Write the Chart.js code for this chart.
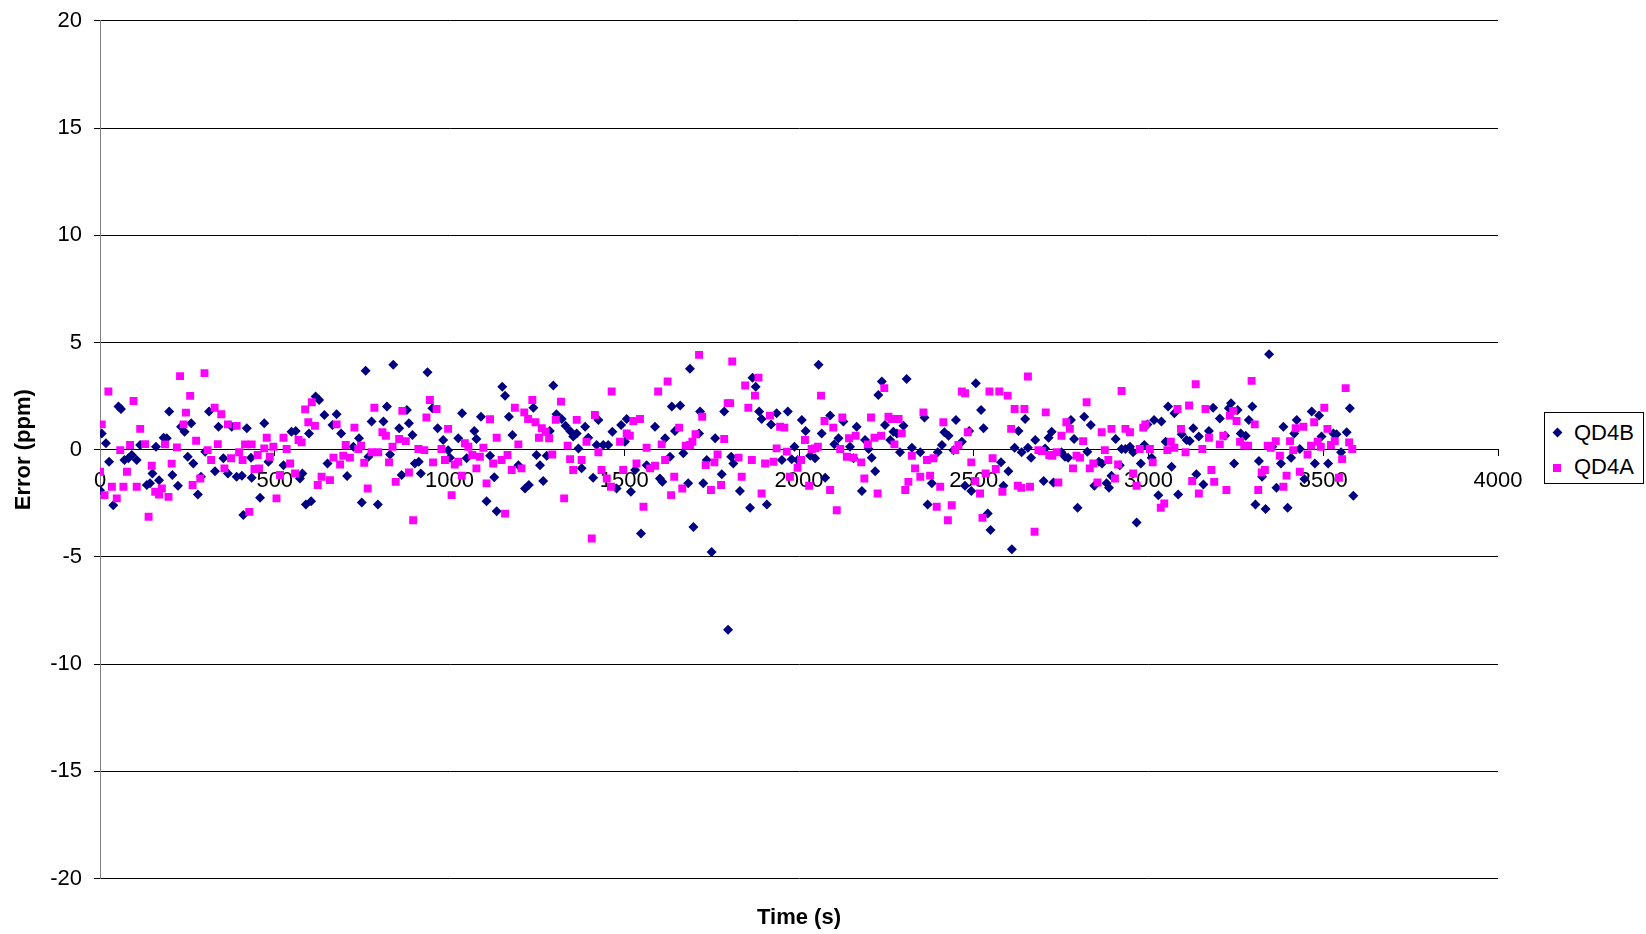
<!DOCTYPE html>
<html>
<head>
<meta charset="utf-8">
<title>QD4B / QD4A error</title>
<script src="https://cdn.jsdelivr.net/npm/chart.js"></script>
<style>
  body { margin: 0; background: #fff; }
  #wrap { position: relative; width: 1646px; height: 934px; }
  #legend { position: absolute; left: 1544px; top: 412px; width: 98px; height: 70px; border: 1px solid #000; background: #fff;
            font-family: Arial, "Liberation Sans", sans-serif; font-size: 22px; color: #000; }
  #legend .txt { position: absolute; left: 29px; line-height: 26px; }
  #legend .dia { position: absolute; left: 9px; top: 16px; width: 7px; height: 7px; background: #000080; transform: rotate(45deg); }
  #legend .sq { position: absolute; left: 8px; top: 51px; width: 8px; height: 8px; background: #ff00ff; }
</style>
</head>
<body>
<div id="wrap">
  <canvas id="chart" width="1646" height="934"></canvas>
  <div id="legend">
    <div class="dia"></div><div class="txt" style="top:7px">QD4B</div>
    <div class="sq"></div><div class="txt" style="top:41px">QD4A</div>
  </div>
</div>
<script>
var xTicks = [0, 500, 1000, 1500, 2000, 2500, 3000, 3500, 4000];
var yTicks = [-20, -15, -10, -5, 0, 5, 10, 15, 20];

var qd4bTime = [0, 5, 17, 26, 38, 53, 60, 70, 81, 91, 105, 115, 134, 143, 150, 160, 169, 182, 191, 198, 207, 223, 232, 242, 251, 261, 267, 280, 289, 301, 312, 329, 339, 353, 366, 377, 391, 406, 410, 420, 432, 434,
  458, 470, 482, 525, 548, 560, 572, 579, 589, 598, 604, 617, 627, 642, 651, 665, 677, 690, 707, 725, 741, 749, 760, 768, 777, 795, 811, 821, 830, 839, 856, 863, 878, 884, 894, 901,
  912, 918, 937, 951, 966, 982, 996, 1001, 1025, 1036, 1049, 1071, 1077, 1090, 1106, 1116, 1128, 1135, 1151, 1159, 1170, 1180, 1197, 1216, 1227, 1240, 1249, 1259, 1268, 1278, 1287, 1297, 1306, 1321, 1332, 1345, 1354,
  1364, 1369, 1378, 1388, 1397, 1411, 1421, 1426, 1440, 1454, 1466, 1478, 1491, 1502, 1507, 1519, 1531, 1548, 1564, 1588, 1602, 1609, 1617, 1631, 1636, 1645, 1660, 1669, 1683, 1688, 1698, 1714, 1717, 1726, 1736, 1750, 1760, 1779, 1786, 1797, 1806, 1812,
  1831, 1860, 1867, 1876, 1886, 1893, 1908, 1920, 1936, 1951, 1968, 1979, 1987, 1996, 2008, 2019, 2032, 2046, 2056, 2065, 2075, 2089, 2101, 2113, 2127, 2146, 2156, 2165, 2180, 2189, 2199, 2208, 2218, 2227, 2237, 2246, 2261, 2270,
  2280, 2289, 2299, 2308, 2323, 2347, 2359, 2368, 2380, 2397, 2409, 2416, 2428, 2442, 2449, 2466, 2475, 2487, 2493, 2506, 2521, 2528, 2540, 2548, 2578, 2585, 2599, 2609, 2617, 2628, 2637, 2647, 2655, 2664, 2676, 2700, 2704, 2714, 2723, 2728,
  2751, 2761, 2770, 2778, 2787, 2797, 2816, 2825, 2835, 2845, 2858, 2867, 2880, 2887, 2894, 2906, 2918, 2923, 2934, 2947, 2956, 2966, 2978, 2988, 2997, 3009, 3016, 3028, 3037, 3049, 3056, 3066, 3074, 3085, 3095, 3109, 3118, 3128, 3137, 3144, 3157, 3173, 3185,
  3204, 3219, 3230, 3236, 3245, 3255, 3264, 3278, 3287, 3297, 3306, 3316, 3325, 3335, 3345, 3354, 3366, 3379, 3386, 3398, 3408, 3417, 3424, 3433, 3446, 3467, 3476, 3488, 3495, 3514, 3529, 3538, 3551, 3567, 3576, 3586];
var qd4bError = [-1.89, 0.76, 0.30, -0.56, -2.59, 2.01, 1.90, -0.48, -0.40, -0.25, -0.48, 0.22, -1.65, -1.57, -1.11, 0.14, -1.42, 0.56, 0.53, 1.78, -1.18, -1.68, 1.07, 0.84, -0.33, 1.23, -0.64, -2.09, -1.26, -0.09, 1.78, -1.00, 1.07, -0.40, -1.11, 1.07, -1.26, -1.21, -3.05, 1.00, -0.37, -1.31,
  -2.24, 1.23, -0.56, -0.72, 0.84, 0.87, -1.34, -1.11, -2.55, 0.76, -2.40, 2.48, 2.32, 1.62, -0.64, 1.15, 1.65, 0.76, -1.23, 0.14, 0.53, -2.46, 3.68, -0.33, 1.31, -2.55, 1.31, 2.01, -0.22, 3.96, 1.00, -1.18, 1.85, 1.23, 0.69, -0.64,
  -0.56, -1.11, 3.61, 1.93, 1.00, 0.45, -0.02, -0.37, 0.53, 1.70, -0.40, 0.87, 0.50, 1.54, -2.40, -0.28, -1.29, -2.87, 2.94, 2.52, 1.54, 0.69, -0.72, -1.81, -1.65, 1.96, -0.25, -0.72, -1.46, -0.28, 0.87, 2.99, 1.65, 1.43, 1.12, 0.87, 0.61,
  0.76, 0.06, -0.87, 1.07, 0.56, -1.31, 0.22, 1.39, 0.22, 0.22, 0.84, -1.81, 1.15, 0.37, 1.43, -1.96, -0.95, -3.91, -0.72, 1.07, -1.34, -1.50, 0.53, -0.33, 2.01, 0.87, 2.06, -0.17, -1.57, 3.77, -3.60, 0.76, 1.78, -1.57, -0.48, -4.77, 0.53, -1.15, 1.78, -8.40, -0.33, -0.64,
  -1.93, -2.71, 3.36, 2.94, 1.78, 1.43, -2.55, 1.18, 1.70, -0.48, 1.78, -0.44, 0.14, -0.48, 1.39, 0.87, -0.28, -0.40, 3.96, 0.76, -1.31, 1.59, 0.25, 0.53, 1.31, 0.14, -0.40, 1.07, -1.93, 0.45, 0.03, -0.37, -1.00, 2.55, 3.18, 1.15, 0.45, 0.84,
  0.76, -0.12, 1.12, 3.30, 0.09, -0.12, 1.50, -2.55, -1.57, -0.12, 0.22, 0.81, 0.65, -0.02, 1.39, 0.37, -1.68, 0.87, -1.93, 3.10, 1.85, 1.00, -2.98, -3.75, -0.59, -1.68, -1.00, -4.64, 0.09, 0.87, -0.12, 1.43, 0.09, -0.37, 0.45, -1.46, 0.06, 0.56, 0.84, -1.53,
  -0.12, -0.33, -0.37, 1.39, 0.50, -2.71, 1.54, -0.09, 1.15, -1.68, -0.56, -0.64, -1.57, -1.78, -1.21, 0.50, -0.72, 0.03, 0.03, 0.14, -0.12, -3.40, -0.64, 0.22, 1.18, -0.37, 1.39, -2.12, 1.31, 0.37, 2.01, -0.79, 1.70, -2.09, 0.72, 0.45, 0.40, 1.00, -1.15, 0.61, -1.62, 0.87, 1.96,
  1.46, 0.65, 1.93, 2.17, -0.64, 1.85, 0.76, 0.65, 1.39, 2.01, -2.55, -0.53, -1.26, -2.77, 4.45, 0.14, -1.78, -0.64, 1.07, -2.71, -0.37, 0.76, 1.39, 0.03, -1.37, 1.78, -0.64, 1.59, 0.61, -0.64, 0.76, 0.72, -0.12, 0.81, 1.93, -2.15];

var qd4aTime = [0, 5, 13, 24, 34, 48, 58, 67, 77, 86, 96, 105, 115, 129, 139, 148, 158, 169, 177, 186, 196, 205, 220, 229, 239, 246, 258, 265, 275, 287, 299, 308, 318, 328, 337, 347, 356, 366, 375, 391, 398, 408, 415, 427, 434, 442,
  451, 455, 470, 477, 486, 496, 505, 515, 525, 534, 544, 558, 568, 577, 587, 596, 606, 615, 623, 634, 658, 668, 677, 687, 696, 703, 715, 728, 739, 747, 756, 766, 777, 785, 796, 808, 818, 827, 837, 846, 856, 865, 875, 884, 896,
  911, 928, 934, 944, 953, 963, 977, 987, 996, 1006, 1015, 1025, 1035, 1044, 1054, 1065, 1077, 1087, 1097, 1106, 1116, 1125, 1135, 1149, 1159, 1166, 1178, 1187, 1197, 1206, 1214, 1225, 1237, 1246, 1256, 1264, 1275, 1285, 1294, 1304, 1319, 1328, 1338, 1345, 1354,
  1364, 1378, 1392, 1407, 1416, 1426, 1435, 1450, 1462, 1464, 1488, 1497, 1507, 1516, 1526, 1535, 1545, 1555, 1564, 1574, 1588, 1597, 1607, 1617, 1624, 1634, 1643, 1657, 1666, 1676, 1688, 1695, 1704, 1714, 1723, 1733, 1748, 1758, 1767, 1777, 1786, 1796, 1803, 1809,
  1827, 1836, 1846, 1855, 1865, 1874, 1884, 1893, 1903, 1917, 1927, 1936, 1946, 1958, 1965, 1974, 1996, 2006, 2017, 2029, 2036, 2046, 2054, 2063, 2073, 2089, 2098, 2108, 2118, 2124, 2137, 2143, 2156, 2162, 2178, 2187, 2197, 2206, 2216, 2225, 2235, 2244, 2256, 2265, 2273,
  2285, 2294, 2304, 2313, 2323, 2332, 2347, 2356, 2366, 2375, 2385, 2394, 2404, 2413, 2426, 2437, 2447, 2456, 2466, 2475, 2483, 2493, 2504, 2518, 2525, 2534, 2545, 2554, 2563, 2573, 2582, 2597, 2607, 2617, 2626, 2636, 2645, 2655, 2661, 2674, 2685, 2695, 2706, 2716, 2725,
  2737, 2742, 2751, 2765, 2775, 2784, 2794, 2804, 2813, 2823, 2832, 2842, 2854, 2866, 2875, 2885, 2894, 2904, 2913, 2923, 2934, 2947, 2956, 2966, 2975, 2985, 2991, 3004, 3012, 3035, 3045, 3054, 3064, 3074, 3083, 3093, 3106, 3116, 3125, 3135, 3144, 3154, 3163, 3173, 3180, 3188,
  3204, 3214, 3223, 3233, 3242, 3252, 3262, 3274, 3285, 3295, 3304, 3314, 3324, 3333, 3341, 3350, 3364, 3376, 3386, 3395, 3405, 3414, 3421, 3433, 3443, 3455, 3465, 3474, 3484, 3493, 3503, 3512, 3522, 3533, 3545, 3554, 3564, 3574, 3583];
var qd4aError = [-1.03, 1.18, -2.12, 2.71, -1.73, -2.27, -0.02, -1.73, -1.03, 0.22, 2.27, -1.73, 0.97, 0.26, -3.13, -0.75, -1.96, -2.09, -1.81, 0.25, -2.20, -0.65, 0.11, 3.43, 1.18, 1.73, 2.51, -1.65, 0.42, -1.34, 3.57, -0.02, -0.48, 1.96, 0.26, 1.65, -0.87, 1.18, -0.40, 1.11, -0.12, -0.48, 0.25, -2.90, 0.25, -0.90,
  -0.25, -0.87, 0.06, 0.56, -0.33, 0.14, -2.27, -1.18, 0.56, 0.03, -0.64, -1.11, 0.45, 0.34, 1.88, 1.28, 2.21, 1.11, -1.65, -1.26, -1.42, -0.37, 1.18, -0.69, -0.28, 0.22, -0.37, 1.03, 0.03, 0.19, -0.61, -1.81, -0.12, 1.96, -0.12, 0.81, 0.65, -0.59, 0.14, -1.50, 0.50, 1.81, 0.40, -1.06, -3.29,
  0.03, -0.02, 1.50, 2.32, -0.59, 1.90, 0.03, -0.48, 0.97, -2.12, -0.69, -0.56, -1.21, 0.30, 0.14, -0.25, -0.87, -0.33, 0.09, -1.57, 1.42, -0.64, 0.56, -0.48, -2.98, -0.25, -0.95, 1.96, 0.25, -0.87, 1.74, 1.43, 2.32, 1.28, 0.56, 1.00, 0.84, 0.53, -0.22, 1.39, 2.24, -2.27, 0.19, -0.44, -0.95,
  1.39, -0.48, 0.37, -4.14, 1.62, -0.12, -0.95, -1.34, -1.73, 2.71, 0.37, -0.95, 0.76, 0.65, 1.34, -0.64, 1.43, -2.66, 0.09, -0.87, -0.75, 2.71, 0.25, -0.48, 3.18, -2.12, -1.26, 1.03, -1.81, 0.19, 0.22, 0.37, 0.72, 4.42, 1.54, -0.72, -1.88, -0.59, -0.22, -1.65, 0.50, 2.17, 2.17, 4.11,
  -0.37, -1.26, 2.99, 1.96, -0.48, 2.52, 3.36, -2.04, -0.64, 1.59, -0.56, 0.06, 1.07, 1.03, -0.09, -1.26, -0.84, -0.48, 0.45, -1.68, 0.03, 0.06, 0.14, 2.52, 1.34, -1.88, 1.03, -2.82, 0.03, 1.50, -0.33, 0.53, -0.37, 0.65, -0.59, -1.34, 0.25, 1.50, 0.56, -2.04, 0.65, 2.87, 1.54, 1.43, 0.25,
  1.43, 0.76, -1.88, -1.50, -0.28, -0.87, -1.26, 1.74, -0.48, -1.21, -0.40, -2.66, -1.73, 1.28, -3.29, -2.59, -0.02, 0.22, 2.71, 2.63, 0.81, -0.59, -1.46, -2.04, -3.18, -1.11, 2.71, -0.40, -0.90, 2.71, -1.96, 2.52, 0.97, 1.90, -1.68, -1.78, 1.90, 3.41, -1.73, -3.83, -0.02, -0.06, 1.74, -0.25, -0.28,
  -0.12, -1.53, 0.65, 1.28, 0.97, -0.87, -0.28, -0.37, 0.40, 2.21, -0.87, -0.64, -1.53, 0.81, -0.02, -0.48, 0.97, -1.34, -0.69, 2.74, 0.97, 0.81, -1.11, -1.68, 0.03, 1.03, 1.18, 0.03, -0.59, -2.71, -2.51, -0.02, 0.37, 0.09, 1.90, 0.97, -0.12, 2.06, -1.46, 3.05, -2.04, 0.03, 1.90, 0.56, -0.95, -1.50,
  0.25, 0.65, -1.88, 1.59, 1.81, 1.34, 0.37, 0.19, 0.19, 3.21, 1.18, -1.88, -1.06, -0.95, 0.19, 0.09, 0.40, -0.28, -1.73, -1.21, 0.40, -0.02, 1.00, -1.03, 1.07, -0.22, 0.19, 1.28, 0.37, 0.14, 1.96, 0.97, 0.22, 0.40, -1.31, -0.44, 2.87, 0.34, 0.03];

var FONT = 'Arial, "Liberation Sans", sans-serif';

function toPoints(xs, ys) {
  return xs.map(function (x, i) { return { x: x, y: ys[i] }; });
}

var CHART = document.getElementById('chart');

let scatterChart = new Chart(CHART, {
  type: 'scatter',
  data: {
    datasets: [{
      label: 'QD4B',
      data: toPoints(qd4bTime, qd4bError),
      pointStyle: 'rectRot',
      pointRadius: 5,
      backgroundColor: '#000080',
      borderColor: '#000080',
      borderWidth: 0,
      order: 1
    }, {
      label: 'QD4A',
      data: toPoints(qd4aTime, qd4aError),
      pointStyle: 'rect',
      pointRadius: 5.6,
      backgroundColor: '#ff00ff',
      borderColor: '#ff00ff',
      borderWidth: 0,
      order: 0
    }]
  },
  options: {
    responsive: false,
    animation: false,
    events: [],
    layout: { padding: { top: 19, left: 0, right: 148, bottom: 3 } },
    plugins: {
      legend: { display: false },
      tooltip: { enabled: false },
      title: {
        display: true,
        position: 'bottom',
        fullSize: false,
        text: 'Time (s)',
        color: '#000',
        font: { family: FONT, size: 22, weight: 'bold' },
        padding: { top: 26, bottom: 0 }
      }
    },
    scales: {
      x: {
        type: 'linear',
        position: { y: 0 },
        min: 0,
        max: 4000,
        afterBuildTicks: function (scale) {
          scale.ticks = xTicks.map(function (v) { return { value: v }; });
        },
        grid: { drawOnChartArea: false, color: '#000', tickLength: 6 },
        border: { color: '#000' },
        ticks: {
          color: '#000', font: { family: FONT, size: 22 }, padding: 12, maxRotation: 0, autoSkip: false,
          callback: function (v) { return String(v); }
        }
      },
      y: {
        type: 'linear',
        min: -20,
        max: 20,
        afterBuildTicks: function (scale) {
          scale.ticks = yTicks.map(function (v) { return { value: v }; });
        },
        afterFit: function (scale) { scale.width = 100; },
        grid: { color: '#000', tickLength: 6 },
        border: { color: '#808080' },
        ticks: { color: '#000', font: { family: FONT, size: 22, lineHeight: 0.8 }, padding: 12 },
        title: {
          display: true,
          text: 'Error (ppm)',
          color: '#000',
          font: { family: FONT, size: 22, weight: 'bold' },
          padding: { top: 11, bottom: 0 }
        }
      }
    }
  }
});
</script>
</body>
</html>
